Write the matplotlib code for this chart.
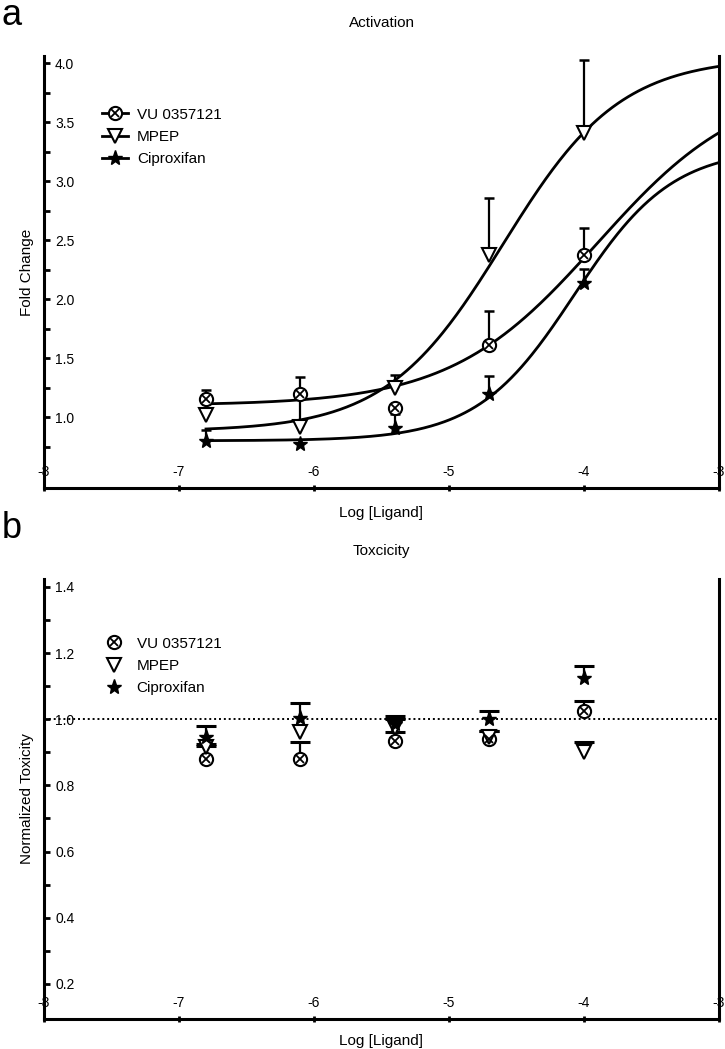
import numpy as np
import matplotlib
matplotlib.use("Agg")
import matplotlib.pyplot as plt
from matplotlib.ticker import FixedLocator

plt.rcParams["font.family"] = ["Liberation Sans", "DejaVu Sans"]

# log concentrations
log_conc = [-6.8, -6.1, -5.4, -4.7, -4.0]

# panel a: activation (fold change, upward SEM)
act_vu = [1.15, 1.20, 1.08, 1.61, 2.37]
act_vu_err = [0.08, 0.14, 0.0, 0.29, 0.23]
act_mpep = [1.02, 0.92, 1.245, 2.37, 3.41]
act_mpep_err = [0.0, 0.28, 0.115, 0.49, 0.62]
act_cipro = [0.80, 0.77, 0.905, 1.20, 2.135]
act_cipro_err = [0.09, 0.0, 0.12, 0.15, 0.12]

# fitted 4PL curves: bottom, top, logEC50, hill
fit_vu = [1.10, 3.85, -3.9, 0.8]
fit_mpep = [0.88, 4.05, -4.6, 1.0]
fit_cipro = [0.80, 3.28, -4.07, 1.2]

# panel b: toxicity
tox_vu = [0.88, 0.88, 0.935, 0.94, 1.025]
tox_vu_err = [0.04, 0.05, 0.025, 0.025, 0.03]
tox_mpep = [0.915, 0.96, 0.975, 0.945, 0.90]
tox_mpep_err = [0.01, 0.0, 0.025, 0.02, 0.03]
tox_cipro = [0.945, 1.005, 0.985, 1.0, 1.125]
tox_cipro_err = [0.035, 0.045, 0.025, 0.025, 0.035]

labels = ["VU 0357121", "MPEP", "Ciproxifan"]
x_ticks = [-8, -7, -6, -5, -4, -3]


def four_pl(x, p):
    b, t, ec, h = p
    return b + (t - b) / (1 + 10 ** ((ec - x) * h))


def up_errorbar(ax, x, y, err, cap, capw):
    # one-sided (upper) error bars, cap only at the top end
    x = np.asarray(x)
    y = np.asarray(y)
    err = np.asarray(err)
    keep = err > 0
    ax.vlines(x[keep], y[keep], (y + err)[keep], color="black", lw=1.6, zorder=3)
    ax.plot(x[keep], (y + err)[keep], "_", color="black", ms=cap, mew=capw, zorder=3)


def style_axes(ax, ymin, ymax, major, minor):
    ax.spines["top"].set_visible(False)
    for s in ["left", "bottom", "right"]:
        ax.spines[s].set_linewidth(2.2)
    ax.set_xlim(-8, -3)
    ax.set_ylim(ymin, ymax)
    ax.set_xticks(x_ticks)
    ax.set_xticklabels([str(t) for t in x_ticks])
    ax.set_yticks(major)
    ax.set_yticklabels(["%.1f" % v for v in major])
    ax.yaxis.set_minor_locator(FixedLocator(minor))
    ax.tick_params(axis="x", direction="inout", length=5, width=2, pad=-9, labelsize=10)
    ax.tick_params(axis="y", which="both", direction="in", length=4.5, width=2, pad=-8,
                   labelsize=10, right=False)
    for lbl in ax.get_xticklabels():
        lbl.set_va("bottom")
    for lbl in ax.get_yticklabels():
        lbl.set_ha("left")


fig = plt.figure(figsize=(7.25, 10.49), dpi=100)

# ---------------- panel a ----------------
ax1 = fig.add_axes([0.0607, 0.5348, 0.931, 0.4118])
style_axes(ax1, 0.40, 4.06, [1.0, 1.5, 2.0, 2.5, 3.0, 3.5, 4.0],
           [0.75, 1.25, 1.75, 2.25, 2.75, 3.25, 3.75])

xs = np.linspace(log_conc[0], -3, 300)
lw = 2.0
ax1.plot(xs, four_pl(xs, fit_vu), color="black", lw=lw, zorder=2)
ax1.plot(xs, four_pl(xs, fit_mpep), color="black", lw=lw, zorder=2)
ax1.plot(xs, four_pl(xs, fit_cipro), color="black", lw=lw, zorder=2)

for y, e in [(act_vu, act_vu_err), (act_mpep, act_mpep_err), (act_cipro, act_cipro_err)]:
    up_errorbar(ax1, log_conc, y, e, cap=7, capw=1.8)

c1, = ax1.plot(log_conc, act_vu, "o", ms=9.5, mfc="white", mec="black", mew=1.5, zorder=4)
x1, = ax1.plot(log_conc, act_vu, "x", ms=6, mec="black", mew=1.3, zorder=5)
t1, = ax1.plot(log_conc, act_mpep, "v", ms=10, mfc="white", mec="black", mew=1.5, zorder=4)
s1, = ax1.plot(log_conc, act_cipro, "*", ms=11, color="black", zorder=4)

l_vu, = ax1.plot([], [], "-", color="black", lw=lw, marker="o", ms=9.5, mfc="white", mew=1.5)
l_vx, = ax1.plot([], [], "none", marker="x", ms=6, mec="black", mew=1.3)
l_mp, = ax1.plot([], [], "-", color="black", lw=lw, marker="v", ms=10, mfc="white", mew=1.5)
l_ci, = ax1.plot([], [], "-", color="black", lw=lw, marker="*", ms=11)
ax1.legend([(l_vu, l_vx), l_mp, l_ci], labels, loc="center left",
           bbox_to_anchor=(0.086, 0.8125), frameon=False, fontsize=11,
           handlelength=1.7, handletextpad=0.6, labelspacing=0.55,
           borderpad=0, borderaxespad=0)

ax1.set_title("Activation", fontsize=11, pad=21)
ax1.set_xlabel("Log [Ligand]", fontsize=11)
ax1.xaxis.set_label_coords(0.5, -0.042)
ax1.xaxis.label.set_va("top")
ax1.set_ylabel("Fold Change", fontsize=11)
ax1.yaxis.set_label_coords(-0.015, 0.5)

# ---------------- panel b ----------------
ax2 = fig.add_axes([0.0607, 0.0286, 0.931, 0.4195])
style_axes(ax2, 0.094, 1.424, [0.2, 0.4, 0.6, 0.8, 1.0, 1.2, 1.4],
           [0.3, 0.5, 0.7, 0.9, 1.1, 1.3])

ax2.axhline(1.0, color="black", lw=1.4, ls=(0, (1, 1.5)), zorder=1)

for y, e in [(tox_vu, tox_vu_err), (tox_mpep, tox_mpep_err), (tox_cipro, tox_cipro_err)]:
    up_errorbar(ax2, log_conc, y, e, cap=14, capw=2.2)

c2, = ax2.plot(log_conc, tox_vu, "o", ms=9.5, mfc="white", mec="black", mew=1.5, zorder=4)
x2, = ax2.plot(log_conc, tox_vu, "x", ms=6, mec="black", mew=1.3, zorder=5)
t2, = ax2.plot(log_conc, tox_mpep, "v", ms=10, mfc="white", mec="black", mew=1.5, zorder=4)
s2, = ax2.plot(log_conc, tox_cipro, "*", ms=11, color="black", zorder=6)

ax2.legend([(c2, x2), t2, s2], labels, loc="center left",
           bbox_to_anchor=(0.092, 0.802), frameon=False, fontsize=11,
           handlelength=1.0, handletextpad=1.0, labelspacing=0.55,
           borderpad=0, borderaxespad=0)

ax2.set_title("Toxcicity", fontsize=11, pad=17)
ax2.set_xlabel("Log [Ligand]", fontsize=11)
ax2.xaxis.set_label_coords(0.5, -0.034)
ax2.xaxis.label.set_va("top")
ax2.set_ylabel("Normalized Toxicity", fontsize=11)
ax2.yaxis.set_label_coords(-0.015, 0.5)

fig.text(0.002, 1 - 25 / 1049, "a", fontsize=26, va="baseline", ha="left")
fig.text(0.002, 1 - 538 / 1049, "b", fontsize=26, va="baseline", ha="left")

fig.savefig("out.png", dpi=100)
